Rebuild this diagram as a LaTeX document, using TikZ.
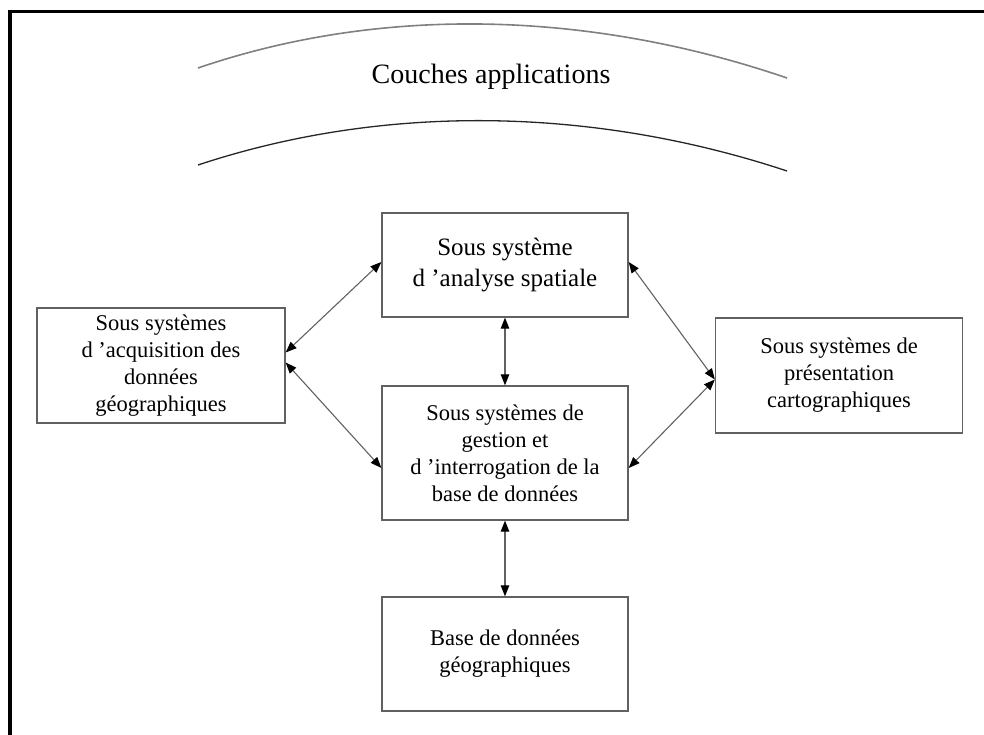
\documentclass[tikz,border=0pt]{standalone}
\usepackage{fontspec}
\setmainfont{Liberation Serif}
\usetikzlibrary{arrows.meta}
\begin{document}
\begin{tikzpicture}[x=1pt,y=-1pt,
  box/.style={draw=black!62, line width=1.3pt, rectangle, inner sep=0pt, align=center,
              text=black, font=\fontsize{22.5}{27}\selectfont},
  link/.style={draw=black!62, line width=1.1pt,
              {Triangle[length=11pt,width=8.5pt,color=black]}-{Triangle[length=11pt,width=8.5pt,color=black]}},
  frameline/.style={line width=3.5pt, black},
  arcup/.style={line width=1.6pt, black!50},
  arclow/.style={line width=1.3pt, black!85}
]
\useasboundingbox (0,0) rectangle (984,735);
% outer frame (only top and left visible)
\draw[frameline] (10,740) -- (10,11.5) -- (990,11.5);
% arcs
\draw[arcup] (198,68) .. controls (388,3) and (597,13) .. (787,78);
\draw[arclow] (198,165) .. controls (388,102) and (597,108) .. (787,171);
\node[font=\fontsize{28}{32}\selectfont, text=black] (title) at (491,76.5) {Couches applications};
% boxes
\node[box, minimum width=248pt, minimum height=115pt] (acq) at (161,365.5)
  {Sous systèmes\\d 'acquisition des\\données\\géographiques};
\node[box, minimum width=246pt, minimum height=104pt, font=\fontsize{25}{31}\selectfont] (ana) at (505,265)
  {Sous système\\d 'analyse spatiale};
\node[box, minimum width=246pt, minimum height=134pt] (ges) at (505,453)
  {Sous systèmes de\\gestion et\\d 'interrogation de la\\base de données};
\node[box, minimum width=247pt, minimum height=115pt] (pres) at (839,375.5)
  {Sous systèmes de\\présentation\\cartographiques};
\node[box, minimum width=246pt, minimum height=114pt] (bd) at (505,654)
  {Base de données\\géographiques};
% connectors
\draw[link] ([yshift=13pt]acq.east) -- ([yshift=3pt]ana.west);
\draw[link] ([yshift=3pt]acq.east) -- ([yshift=-15pt]ges.west);
\draw[link] (ana.south) -- (ges.north);
\draw[link] (ges.south) -- (bd.north);
\draw[link] ([yshift=-4pt]pres.west) -- ([yshift=3pt]ana.east);
\draw[link] ([yshift=-4pt]pres.west) -- ([yshift=-15pt]ges.east);
\end{tikzpicture}
\end{document}
